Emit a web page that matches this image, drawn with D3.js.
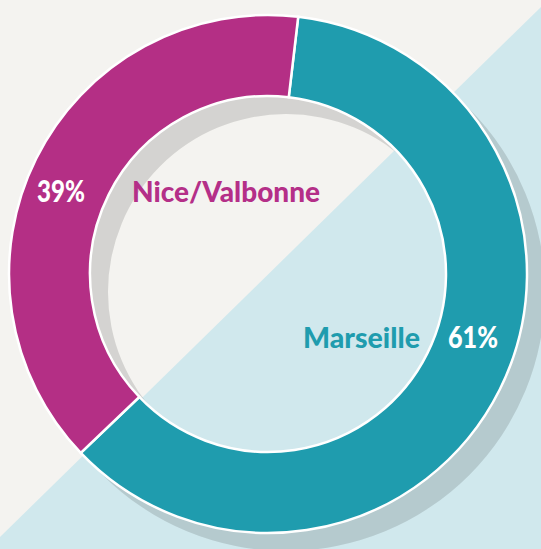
<!DOCTYPE html>
<html>
<head>
<meta charset="utf-8">
<script src="https://cdn.jsdelivr.net/npm/d3@7"></script>
<style>
  html, body { margin: 0; padding: 0; background: #f4f3f0; }
  svg { display: block; }
</style>
</head>
<body>
<svg id="chart" width="541" height="549"></svg>
<script>
// ---- data ----
const categories = ["Marseille", "Nice/Valbonne"];
const values = [61, 39];
const percentLabels = ["61%", "39%"];
const colors = ["#1f9cae", "#b42f85"];
const textColors = ["#1f9cae", "#b42f88"];

// ---- layout ----
const W = 541, H = 549;
const cx = 268, cy = 274;
const outerR = 259, innerR = 178;
const startDeg = 6.7;

const svg = d3.select("#chart");

// background: beige + diagonal light blue
svg.append("rect").attr("width", W).attr("height", H).attr("fill", "#f4f3f0");
svg.append("polygon")
  .attr("points", [[0, 537], [W, 7], [W, H], [0, H]].map(p => p.join(",")).join(" "))
  .attr("fill", "#d0e8ed");

const start = startDeg * Math.PI / 180;
const pie = d3.pie().sort(null).value(d => d).startAngle(start).endAngle(start + 2 * Math.PI);
const arcs = pie(values);
const arc = d3.arc().innerRadius(innerR).outerRadius(outerR);

// shadow
svg.append("path")
  .attr("transform", `translate(${cx + 18},${cy + 18})`)
  .attr("d", d3.arc().innerRadius(innerR).outerRadius(outerR)({ startAngle: 0, endAngle: 2 * Math.PI }))
  .attr("fill", "#000")
  .attr("fill-opacity", 0.13);

const g = svg.append("g").attr("transform", `translate(${cx},${cy})`);
g.selectAll("path.slice")
  .data(arcs)
  .join("path")
  .attr("class", "slice")
  .attr("d", arc)
  .attr("fill", (d, i) => colors[i])
  .attr("stroke", "#fff")
  .attr("stroke-width", 2.5)
  .attr("stroke-linejoin", "miter");

// labels (positions relative to center)
const font = "Lato, 'Open Sans', sans-serif";
const labelSpec = [
  // Marseille
  { name: { x: 303 - cx, y: 348 - cy, w: 117 },
    pct: { x: 448 - cx, y: 348 - cy, w: 50 } },
  // Nice/Valbonne
  { name: { x: 132 - cx, y: 202 - cy, w: 188 },
    pct: { x: 37 - cx, y: 202 - cy, w: 48 } }
];

categories.forEach((c, i) => {
  const s = labelSpec[i];
  g.append("text")
    .attr("x", s.name.x).attr("y", s.name.y)
    .attr("font-family", font).attr("font-weight", 900).attr("font-size", 29)
    .attr("fill", textColors[i])
    .attr("textLength", s.name.w).attr("lengthAdjust", "spacingAndGlyphs")
    .text(c);
  g.append("text")
    .attr("x", s.pct.x).attr("y", s.pct.y)
    .attr("font-family", font).attr("font-weight", 900).attr("font-size", 30)
    .attr("fill", "#fff")
    .attr("textLength", s.pct.w).attr("lengthAdjust", "spacingAndGlyphs")
    .text(percentLabels[i]);
});
</script>
</body>
</html>
